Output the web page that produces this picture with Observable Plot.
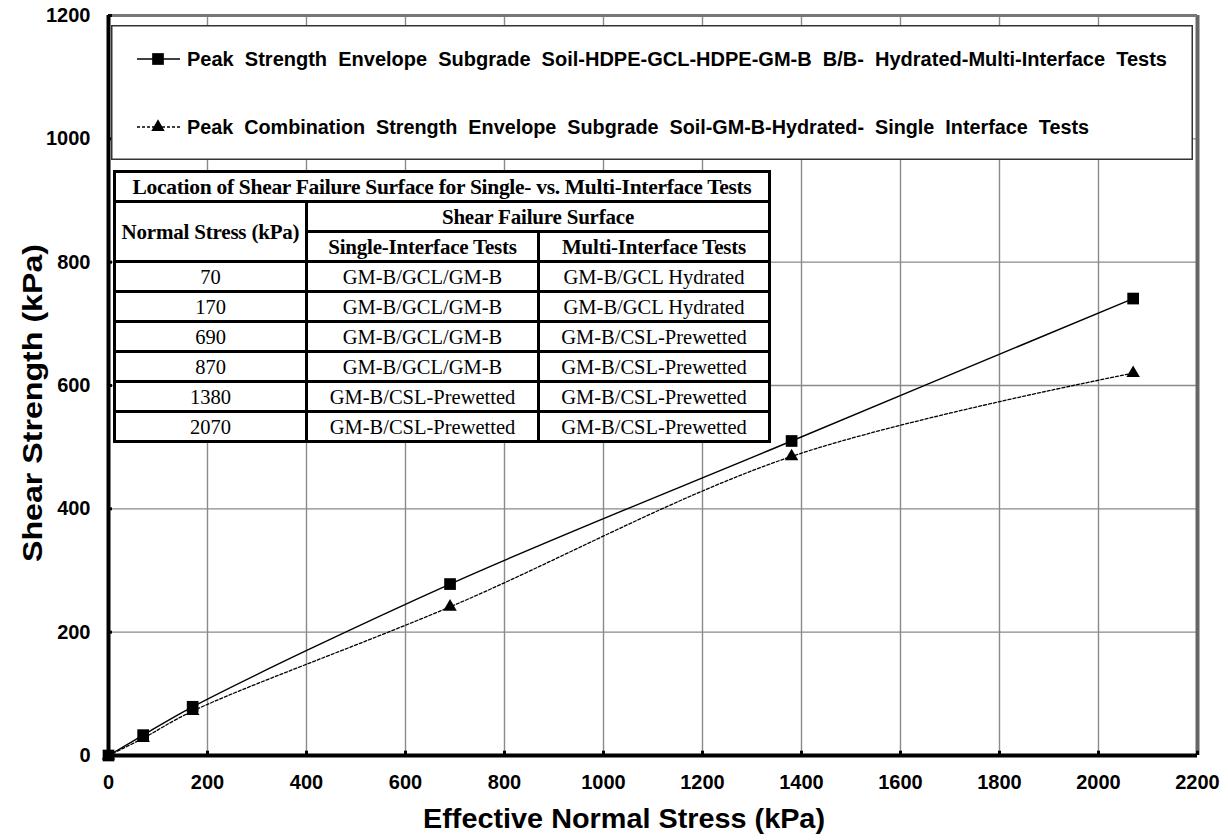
<!DOCTYPE html>
<html>
<head>
<meta charset="utf-8">
<script src="https://cdn.jsdelivr.net/npm/d3@7"></script>
<script src="https://cdn.jsdelivr.net/npm/@observablehq/plot@0.6"></script>
<style>
  body { margin: 0; background: #fff; }
  #wrap { position: relative; width: 1228px; height: 840px; font-family: "Liberation Sans", Arial, sans-serif; }
  #legend { position: absolute; left: 111px; top: 25px; }
  #failure {
    position: absolute; left: 113px; top: 170px;
    border-collapse: collapse; table-layout: fixed; background: #fff;
    font-family: "Liberation Serif", "Times New Roman", serif; color: #000;
  }
  #failure td, #failure th {
    border: 3px solid #000; height: 27px; padding: 0; text-align: center;
    white-space: nowrap; overflow: hidden; line-height: 26px;
  }
  #failure th { font-weight: bold; font-size: 21px; letter-spacing: -0.2px; }
  #failure td { font-size: 20.5px; }
  #failure th.title { font-size: 21.5px; letter-spacing: -0.3px; }
</style>
</head>
<body>
<div id="wrap"></div>
<script>
// Effective normal stress (kPa) at each test point
const stress = [0, 70, 170, 690, 1380, 2070];
// Peak shear strength (kPa), multi-interface tests
const multiInterface = [0, 33, 79, 278, 510, 741];
// Peak combination shear strength (kPa), single-interface tests
const singleInterface = [0, 28, 72, 241, 485, 620];

const xTicks = d3.range(0, 2201, 200);
const yTicks = d3.range(0, 1201, 200);

const xTitle = "Effective Normal Stress (kPa)";
const yTitle = "Shear Strength (kPa)";
const seriesNames = [
  "Peak  Strength  Envelope  Subgrade  Soil-HDPE-GCL-HDPE-GM-B  B/B-  Hydrated-Multi-Interface  Tests",
  "Peak  Combination  Strength  Envelope  Subgrade  Soil-GM-B-Hydrated-  Single  Interface  Tests"
];

// Failure-surface table
const tableTitle = "Location of Shear Failure Surface for Single- vs. Multi-Interface Tests";
const tableStress = ["70", "170", "690", "870", "1380", "2070"];
const singleSurface = ["GM-B/GCL/GM-B", "GM-B/GCL/GM-B", "GM-B/GCL/GM-B", "GM-B/GCL/GM-B", "GM-B/CSL-Prewetted", "GM-B/CSL-Prewetted"];
const multiSurface = ["GM-B/GCL Hydrated", "GM-B/GCL Hydrated", "GM-B/CSL-Prewetted", "GM-B/CSL-Prewetted", "GM-B/CSL-Prewetted", "GM-B/CSL-Prewetted"];

const multiData = stress.map((s, i) => ({stress: s, strength: multiInterface[i]}));
const singleData = stress.map((s, i) => ({stress: s, strength: singleInterface[i]}));

const chart = Plot.plot({
  width: 1228,
  height: 840,
  marginLeft: 108,
  marginRight: 31,
  marginTop: 15,
  marginBottom: 85,
  style: {fontFamily: "'Liberation Sans', Arial, sans-serif", fontWeight: "bold", fontSize: "20px", color: "#000", background: "#fff"},
  x: {domain: [0, 2200]},
  y: {domain: [0, 1200]},
  marks: [
    Plot.gridX(xTicks, {stroke: "#8a8a8a", strokeOpacity: 1, strokeWidth: 1.4}),
    Plot.gridY(yTicks, {stroke: "#8a8a8a", strokeOpacity: 1, strokeWidth: 1.4}),
    Plot.ruleX([2200], {stroke: "#666", strokeWidth: 4}),
    Plot.ruleY([1200], {stroke: "#777", strokeWidth: 3}),
    Plot.ruleX(xTicks, {y1: 0, y2: 7, stroke: "#000", strokeWidth: 3}),
    Plot.ruleY(yTicks, {x1: 0, x2: 8, stroke: "#000", strokeWidth: 3}),
    Plot.ruleX([0], {stroke: "#000", strokeWidth: 4}),
    Plot.ruleY([0], {stroke: "#000", strokeWidth: 4}),
    Plot.axisX(xTicks, {tickSize: 0, tickPadding: 19, tickFormat: d => String(d), fontSize: 20, fontWeight: "bold", label: null}),
    Plot.axisY(yTicks, {tickSize: 0, tickPadding: 18, tickFormat: d => String(d), fontSize: 20, fontWeight: "bold", label: null}),
    Plot.line(singleData, {x: "stress", y: "strength", curve: "catmull-rom", stroke: "#000", strokeWidth: 1.3, strokeDasharray: "3,2"}),
    Plot.line(multiData, {x: "stress", y: "strength", curve: "catmull-rom", stroke: "#000", strokeWidth: 1.4}),
    Plot.dot(singleData, {x: "stress", y: "strength", symbol: "triangle", r: 5, fill: "#000", stroke: "none"}),
    Plot.dot(multiData, {x: "stress", y: "strength", symbol: "square", r: 6.6, fill: "#000", stroke: "none"})
  ]
});
document.getElementById("wrap").appendChild(chart);

// Axis titles
const svg = d3.select(chart);
svg.append("text")
  .attr("x", 624).attr("y", 828).attr("text-anchor", "middle")
  .attr("font-size", 28).attr("font-weight", "bold").attr("fill", "#000")
  .attr("textLength", 402).attr("lengthAdjust", "spacingAndGlyphs")
  .text(xTitle);
svg.append("text")
  .attr("transform", "translate(42,403) rotate(-90)").attr("text-anchor", "middle")
  .attr("font-size", 28).attr("font-weight", "bold").attr("fill", "#000")
  .attr("textLength", 318).attr("lengthAdjust", "spacingAndGlyphs")
  .text(yTitle);

// Legend box with line + marker samples
const lg = d3.select("#wrap").append("svg")
  .attr("id", "legend")
  .attr("width", 1082).attr("height", 135);
lg.append("rect").attr("x", 0.75).attr("y", 0.75).attr("width", 1080.5).attr("height", 133.5)
  .attr("fill", "#fff").attr("stroke", "#333").attr("stroke-width", 1.5);
const rowsY = [34, 102];
const textWidths = [980, 902];
const dashes = [null, "3,2"];
const symbols = [d3.symbolSquare, d3.symbolTriangle];
const symSizes = [6.6, 5];
rowsY.forEach((y, i) => {
  lg.append("line").attr("x1", 26).attr("x2", 69).attr("y1", y).attr("y2", y)
    .attr("stroke", "#000").attr("stroke-width", 1.4).attr("stroke-dasharray", dashes[i]);
  lg.append("path").attr("transform", `translate(47,${y})`)
    .attr("d", d3.symbol(symbols[i], Math.PI * symSizes[i] * symSizes[i])()).attr("fill", "#000");
  lg.append("text").attr("x", 76).attr("y", y).attr("dy", "0.36em")
    .style("white-space", "pre")
    .attr("font-size", 20).attr("font-weight", "bold").attr("fill", "#000")
    .attr("textLength", textWidths[i]).attr("lengthAdjust", "spacingAndGlyphs")
    .text(seriesNames[i]);
});

// Failure-surface table
const table = d3.select("#wrap").append("table").attr("id", "failure");
const cg = table.append("colgroup");
[192, 232, 231].forEach(w => cg.append("col").style("width", w + "px"));
table.append("tr").append("th").attr("class", "title").attr("colspan", 3).text(tableTitle);
const h2 = table.append("tr");
h2.append("th").attr("rowspan", 2).text("Normal Stress (kPa)");
h2.append("th").attr("colspan", 2).text("Shear Failure Surface");
const h3 = table.append("tr");
h3.append("th").text("Single-Interface Tests");
h3.append("th").text("Multi-Interface Tests");
tableStress.forEach((s, i) => {
  const tr = table.append("tr");
  tr.append("td").text(s);
  tr.append("td").text(singleSurface[i]);
  tr.append("td").text(multiSurface[i]);
});
</script>
</body>
</html>
